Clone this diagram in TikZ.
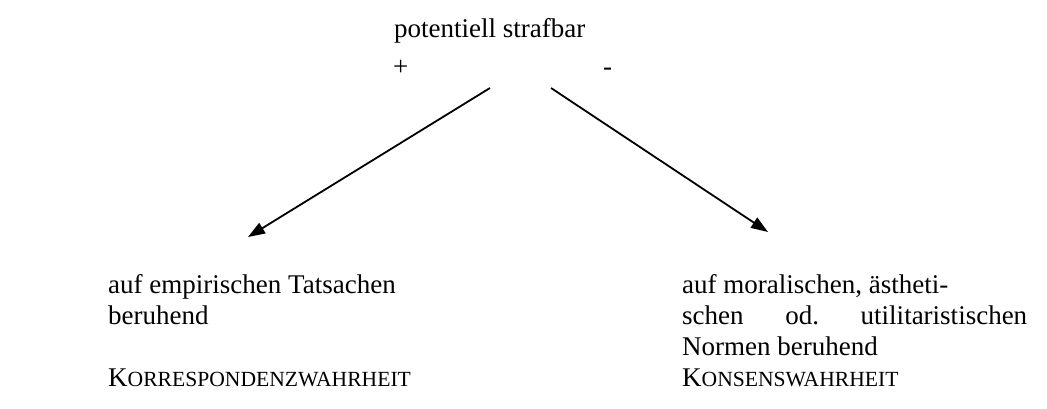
\documentclass[tikz,border=0pt]{standalone}
\usepackage{fontspec}
\setmainfont{Liberation Serif}
\usetikzlibrary{arrows.meta}
\newcommand{\fsc}[2]{#1{\fontsize{21.6pt}{24pt}\selectfont #2}}
\tikzset{
  lbl/.style={anchor=base west, inner sep=0pt, font=\fontsize{27pt}{31pt}\selectfont},
  arr/.style={line width=1.8pt, -{Triangle[length=17pt,width=12pt]}}
}
\begin{document}
\begin{tikzpicture}[x=1pt,y=1pt]
\useasboundingbox (0,0) rectangle (1047,-408);
\node[lbl] (title) at (394,-37) {potentiell strafbar};
\node[lbl] (plus) at (393,-75) {+};
\node[lbl] (minus) at (603,-75) {-};
\coordinate (ls) at (490,-88);
\coordinate (le) at (248,-237);
\coordinate (rs) at (551,-88);
\coordinate (re) at (768,-232);
\draw[arr] (ls) -- (le);
\draw[arr] (rs) -- (re);
\node[lbl] (l1) at (108,-293) {auf empirischen Tatsachen};
\node[lbl] (l2) at (108,-324) {beruhend};
\node[lbl] (l3) at (108,-386) {\fsc{K}{ORRESPONDENZWAHRHEIT}};
\node[lbl] (r1) at (682,-293) {auf moralischen, ästheti-};
\node[lbl] (r2) at (682,-324) {\hbox to 345pt{schen\hfill od.\hfill utilitaristischen}};
\node[lbl] (r3) at (682,-355) {Normen beruhend};
\node[lbl] (r4) at (682,-386) {\fsc{K}{ONSENSWAHRHEIT}};
\end{tikzpicture}
\end{document}
